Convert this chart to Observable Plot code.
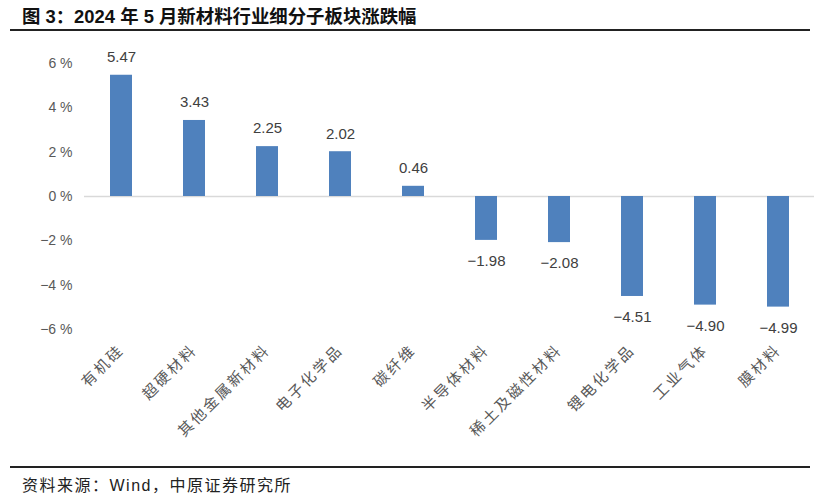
<!DOCTYPE html>
<html>
<head>
<meta charset="utf-8">
<script src="https://cdn.jsdelivr.net/npm/d3@7"></script>
<script src="https://cdn.jsdelivr.net/npm/@observablehq/plot@0.6"></script>
<style>
  html, body { margin: 0; padding: 0; background: #fff; }
  body { width: 820px; height: 497px; position: relative; overflow: hidden; font-family: "Liberation Sans", "Noto Sans CJK SC", sans-serif; }
  #title { position: absolute; left: 22px; top: 2px; font-size: 18.4px; font-weight: bold; color: #111; font-family: "Liberation Sans", "Noto Sans CJK SC", sans-serif; white-space: nowrap; }
  #tline { position: absolute; left: 10px; width: 800px; top: 29px; height: 2px; background: #222; }
  #chart { position: absolute; left: 0; top: 34px; }
  #bline { position: absolute; left: 10px; width: 800px; top: 466px; height: 2px; background: #222; }
  #source { position: absolute; left: 22px; top: 472px; font-size: 16px; letter-spacing: 1.5px; color: #222; white-space: nowrap; font-family: "Liberation Sans", "Noto Sans CJK SC", sans-serif; }
  #chart g[aria-label="x-axis tick label"] text { letter-spacing: 2.5px; }
</style>
</head>
<body>
<div id="title">图 3：2024 年 5 月新材料行业细分子板块涨跌幅</div>
<div id="tline"></div>
<div id="chart"></div>
<div id="bline"></div>
<div id="source">资料来源：Wind，中原证券研究所</div>
<script>
const categories = ["有机硅", "超硬材料", "其他金属新材料", "电子化学品", "碳纤维", "半导体材料", "稀土及磁性材料", "锂电化学品", "工业气体", "膜材料"];
const changes = [5.47, 3.43, 2.25, 2.02, 0.46, -1.98, -2.08, -4.51, -4.90, -4.99];
const yTicks = [-6, -4, -2, 0, 2, 4, 6];

const data = categories.map((c, i) => ({category: c, value: changes[i]}));
const fmtVal = v => (v < 0 ? "\u2212" : "") + Math.abs(v).toFixed(2);
const fmtTick = v => (v < 0 ? "\u2212" : "") + Math.abs(v) + " %";

const chart = Plot.plot({
  width: 820,
  height: 430,
  marginTop: 29,
  marginBottom: 135,
  marginLeft: 84,
  marginRight: 6,
  style: { fontFamily: "Liberation Sans, Noto Sans CJK SC, sans-serif", background: "#fff" },
  x: { domain: categories, paddingInner: 0.7, paddingOuter: 0.35, label: null },
  y: { domain: [-6, 6], label: null },
  marks: [
    Plot.ruleY([0], { stroke: "#d9d9d9", strokeWidth: 1.5 }),
    Plot.barY(data, { x: "category", y: "value", fill: "#4f81bd" }),
    Plot.text(data.filter(d => d.value >= 0), { x: "category", y: "value", text: d => fmtVal(d.value), dy: -18, fontSize: 15, fill: "#404040" }),
    Plot.text(data.filter(d => d.value < 0), { x: "category", y: "value", text: d => fmtVal(d.value), dy: 21, fontSize: 15, fill: "#404040" }),
    Plot.axisY({ ticks: yTicks, tickFormat: fmtTick, tickSize: 0, tickPadding: 12, fontSize: 14, color: "#595959", label: null }),
    Plot.axisX({ tickSize: 0, tickPadding: 18, tickRotate: -45, fontSize: 15, color: "#595959", label: null, fontFamily: "Noto Sans CJK SC" })
  ]
});
document.getElementById("chart").appendChild(chart);
</script>
</body>
</html>
